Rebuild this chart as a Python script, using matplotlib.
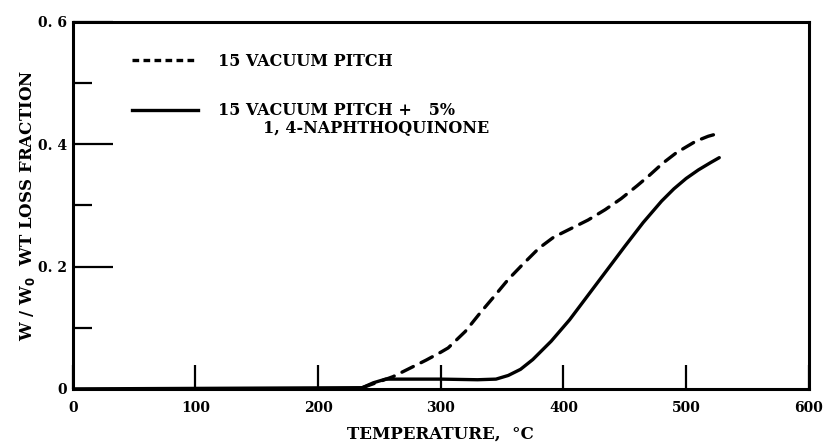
import matplotlib
matplotlib.use("Agg")
import matplotlib.pyplot as plt
from matplotlib.lines import Line2D

# weight-loss curves read at temperature (deg C)
temp_pitch = [236, 250, 261, 270, 280, 288, 300, 306, 320, 332, 343, 355, 367,
              380, 392, 405, 420, 434, 447, 460, 470, 481, 492, 508, 518, 527]
loss_pitch = [0.002, 0.012, 0.020, 0.029, 0.039, 0.047, 0.060, 0.067, 0.094,
              0.124, 0.150, 0.179, 0.204, 0.230, 0.248, 0.261, 0.276, 0.293,
              0.311, 0.332, 0.349, 0.369, 0.386, 0.405, 0.413, 0.418]

temp_nq = [0, 236, 245, 255, 270, 300, 330, 345, 355, 365, 375, 390, 405, 420,
           435, 450, 465, 480, 490, 500, 510, 520, 527]
loss_nq = [0.0, 0.002, 0.010, 0.016, 0.016, 0.016, 0.015, 0.016, 0.022, 0.032,
           0.048, 0.078, 0.113, 0.153, 0.193, 0.233, 0.272, 0.307, 0.327,
           0.344, 0.358, 0.370, 0.378]

x_ticks = [0, 100, 200, 300, 400, 500, 600]
y_ticks = [0, 0.2, 0.4, 0.6]
y_tick_labels = ["0", "0. 2", "0. 4", "0. 6"]
y_minor = [0.1, 0.3, 0.5]

label_pitch = "15 VACUUM PITCH"
label_nq = "15 VACUUM PITCH +   5%"
label_nq_2 = "1, 4-NAPHTHOQUINONE"

plt.rcParams["font.family"] = ["DejaVu Serif"]
plt.rcParams["font.weight"] = "bold"

fig = plt.figure(figsize=(8.27, 4.46), dpi=100)
ax = fig.add_axes([0.088, 0.128, 0.890, 0.823])

ax.plot(temp_pitch, loss_pitch, color="black", lw=2.4, ls=(0, (3.8, 2.6)),
        solid_capstyle="round", dash_capstyle="round")
ax.plot(temp_nq, loss_nq, color="black", lw=2.4, solid_capstyle="round")

ax.set_xlim(0, 600)
ax.set_ylim(0, 0.6)
for s in ax.spines.values():
    s.set_linewidth(2.2)

ax.set_xticks(x_ticks)
ax.set_xticklabels([str(t) for t in x_ticks], fontsize=10, fontweight="bold")
ax.set_yticks(y_ticks)
ax.set_yticklabels(y_tick_labels, fontsize=10, fontweight="bold")
ax.set_yticks(y_minor, minor=True)
ax.tick_params(axis="x", direction="in", length=17, width=1.6, pad=9)
ax.tick_params(axis="y", which="major", direction="in", length=29, width=1.6, pad=4)
ax.tick_params(axis="y", which="minor", direction="in", length=14, width=1.6)

ax.set_xlabel("TEMPERATURE,  \u00b0C", fontsize=12, fontweight="bold", labelpad=7)
ax.set_ylabel("W / W$_\\mathbf{0}$  WT LOSS FRACTION", fontsize=12,
              fontweight="bold", labelpad=1)

handles = [Line2D([], [], color="black", lw=2.4, ls=(0, (2.0, 1.3))),
           Line2D([], [], color="black", lw=2.4)]
ax.legend(handles, [label_pitch, label_nq], loc="upper left",
          bbox_to_anchor=(0.061, 0.955), frameon=False,
          handlelength=4.1, handletextpad=1.3, labelspacing=2.05,
          prop={"weight": "bold", "size": 11.5})
ax.text(0.259, 0.6975, label_nq_2, transform=ax.transAxes, fontsize=11.5,
        fontweight="bold", va="baseline", ha="left")

fig.savefig("out.png", dpi=100)
